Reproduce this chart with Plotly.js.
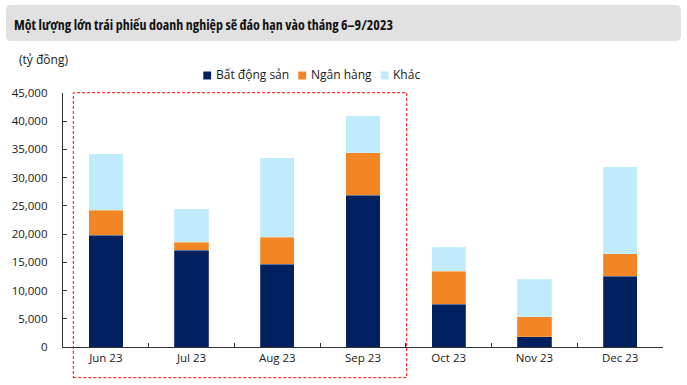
<!DOCTYPE html>
<html>
<head>
<meta charset="utf-8">
<script src="https://cdn.plot.ly/plotly-3.0.1.min.js"></script>
<style>html,body{margin:0;padding:0;background:#fff;}#chart{width:687px;height:385px;}</style>
</head>
<body>
<div id="chart"></div>
<script>
// Data (tỷ đồng)
const months = ["Jun 23", "Jul 23", "Aug 23", "Sep 23", "Oct 23", "Nov 23", "Dec 23"];
const batDongSan = [19830, 17110, 14620, 26880, 7580, 1780, 12550];
const nganHang = [4440, 1420, 4860, 7520, 5860, 3550, 3970];
const khac = [9950, 5920, 14030, 6570, 4200, 6690, 15390];
const seriesNames = ["Bất động sản", "Ngân hàng", "Khác"];
const yTickVals = [0, 5000, 10000, 15000, 20000, 25000, 30000, 35000, 40000, 45000];
const titleText = "Một lượng lớn trái phiếu doanh nghiệp sẽ đáo hạn vào tháng 6–9/2023";
const unitText = "(tỷ đồng)";

// layout geometry (pixels)
const W = 687, H = 385;
const M = {l: 63, r: 24, t: 93, b: 38};
const PW = W - M.l - M.r, PH = H - M.t - M.b;
const px = x => (x - M.l) / PW;
const py = y => (H - M.b - y) / PH;

function roundRect(x0, y0, x1, y1, r) {
  const X = px, Y = py;
  return `M ${X(x0 + r)},${Y(y0)} L ${X(x1 - r)},${Y(y0)} Q ${X(x1)},${Y(y0)} ${X(x1)},${Y(y0 + r)} ` +
         `L ${X(x1)},${Y(y1 - r)} Q ${X(x1)},${Y(y1)} ${X(x1 - r)},${Y(y1)} ` +
         `L ${X(x0 + r)},${Y(y1)} Q ${X(x0)},${Y(y1)} ${X(x0)},${Y(y1 - r)} ` +
         `L ${X(x0)},${Y(y0 + r)} Q ${X(x0)},${Y(y0)} ${X(x0 + r)},${Y(y0)} Z`;
}

const colors = ["#00205F", "#F28524", "#BFEBFC"];
const vals = [batDongSan, nganHang, khac];
const traces = vals.map((v, i) => ({
  type: "bar",
  x: months,
  y: v,
  name: seriesNames[i],
  marker: {color: colors[i], line: {width: 0.6, color: "rgba(255,255,255,0.35)"}},
  hoverinfo: "x+y+name"
}));

const font = "Open Sans, Noto Sans, sans-serif";

// legend (drawn as swatches + labels)
const legendSwatchX = [203.3, 298.3, 380.7];
const legendY = 75.5;
const legendShapes = seriesNames.map((n, i) => ({
  type: "rect", xref: "paper", yref: "paper",
  x0: px(legendSwatchX[i]), x1: px(legendSwatchX[i] + 7.8),
  y0: py(legendY + 4), y1: py(legendY - 4),
  fillcolor: colors[i], line: {width: 0}
}));
const legendAnn = seriesNames.map((n, i) => ({
  text: n, xref: "paper", yref: "paper",
  x: px(legendSwatchX[i] + 10.5), y: py(legendY - 0.5), xanchor: "left", yanchor: "middle",
  showarrow: false, font: {family: font, size: 12, color: "#1a1a1a"}
}));

const layout = {
  width: W, height: H,
  margin: M,
  barmode: "stack",
  bargap: 0.6,
  paper_bgcolor: "#fff",
  plot_bgcolor: "#fff",
  font: {family: font, size: 11, color: "#1a1a1a"},
  showlegend: false,
  xaxis: {
    type: "category",
    showline: true, linecolor: "#333", linewidth: 1.2,
    ticks: "inside", tickson: "boundaries", ticklen: 4, tickcolor: "#333",
    showgrid: false, zeroline: false,
    tickfont: {family: font, size: 11.5, color: "#1a1a1a"},
    fixedrange: true
  },
  yaxis: {
    range: [0, 45000],
    tickvals: yTickVals,
    tickformat: ",d",
    showline: true, linecolor: "#333", linewidth: 1.2,
    ticks: "inside", ticklen: 4, tickcolor: "#333",
    showgrid: false, zeroline: false,
    tickfont: {family: font, size: 11.5, color: "#1a1a1a"},
    ticklabelstandoff: 12,
    fixedrange: true
  },
  shapes: [
    {type: "path", xref: "paper", yref: "paper", path: roundRect(6, 5, 681, 41, 5),
     fillcolor: "#E1E1E1", line: {width: 0}, layer: "below"},
    {type: "rect", xref: "paper", yref: "paper",
     x0: px(73.3), x1: px(406.7), y0: py(377.7), y1: py(92.7),
     line: {color: "#FF0000", width: 1, dash: "3px,2px"}, fillcolor: "rgba(0,0,0,0)", layer: "above"}
  ].concat(legendShapes),
  annotations: [
    {text: "<b>" + titleText + "</b>", align: "left",
     xref: "paper", yref: "paper", x: px(14), y: py(23.5), xanchor: "left", yanchor: "middle",
     showarrow: false, font: {family: font, size: 15, color: "#111"}},
    {text: unitText, xref: "paper", yref: "paper", x: px(16.5), y: py(59),
     xanchor: "left", yanchor: "middle", showarrow: false,
     font: {family: font, size: 12, color: "#1a1a1a"}}
  ].concat(legendAnn)
};

Plotly.newPlot("chart", traces, layout, {displayModeBar: false, staticPlot: true}).then(gd => {
  // condense the headline to match the narrow title face of the original
  const t = gd.querySelector(".annotation[data-index='0'] text");
  if (t) {
    t.style.fontStretch = "75%";
    const target = 379;
    const len = t.getComputedTextLength();
    if (len > target + 4) {
      t.setAttribute("textLength", target);
      t.setAttribute("lengthAdjust", "spacingAndGlyphs");
    }
    // keep the left edge of the headline at x = 14px
    const host = gd.getBoundingClientRect();
    const r = t.getBoundingClientRect();
    const dx = (r.left - host.left) - 14;
    const x0 = parseFloat(t.getAttribute("x") || "0");
    t.setAttribute("x", x0 - dx);
  }
});
</script>
</body>
</html>
